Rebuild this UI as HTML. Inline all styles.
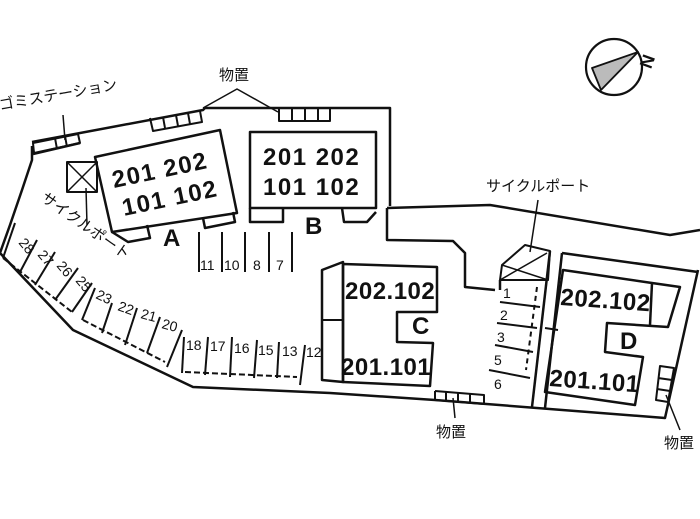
<!DOCTYPE html>
<html><head><meta charset="utf-8"><style>
html,body{margin:0;padding:0;background:#fff;width:700px;height:519px;overflow:hidden}
svg{display:block}
text{font-family:"Liberation Sans","Noto Sans CJK JP",sans-serif;fill:#111}
.b{font-weight:bold;font-size:24px;letter-spacing:1.5px}
.s{font-size:14px}
.j{font-size:15px}
</style></head><body>
<svg width="700" height="519" viewBox="0 0 700 519" xmlns="http://www.w3.org/2000/svg" stroke="#111" fill="none" stroke-width="2.5" stroke-linejoin="round">
<!-- compass -->
<circle cx="614" cy="67" r="28" stroke-width="2.2"/>
<polygon points="592,68 638,52 601,90" fill="#bbb" stroke-width="1.8"/>
<text x="640" y="66" font-size="18" font-weight="bold" stroke="none" transform="rotate(-70 648 60)">N</text>
<!-- outer boundary -->
<polyline points="32,146 32,160 22,190 10,225 0,253 73,330 193,387 330,393 435,400 665,418 698,270"/>
<polyline points="32,142 203,110 205,108 390,108 390,206"/>
<polyline points="387,208 490,205 670,235 700,230"/>
<line x1="33" y1="154" x2="80" y2="143"/>
<polygon points="33,143 78,134 80,143 34,153" stroke-width="2"/>
<line x1="55" y1="138" x2="57" y2="149" stroke-width="2"/>
<line x1="65" y1="136" x2="67" y2="147" stroke-width="2"/>
<!-- storage top -->
<polyline points="150,118 153,131 202,122 200,111" stroke-width="2"/>
<line x1="163" y1="117" x2="165" y2="128" stroke-width="2"/><line x1="176" y1="115" x2="178" y2="126" stroke-width="2"/><line x1="188" y1="113" x2="190" y2="124" stroke-width="2"/>
<polyline points="279,108 279,121 330,121 330,108" stroke-width="2"/>
<line x1="292" y1="108" x2="292" y2="121" stroke-width="2"/><line x1="305" y1="108" x2="305" y2="121" stroke-width="2"/><line x1="318" y1="108" x2="318" y2="121" stroke-width="2"/>
<polyline points="203,108 237,89 278,112" stroke-width="1.5"/>
<line x1="63" y1="115" x2="65" y2="140" stroke-width="1.5"/>
<!-- building A -->
<polygon points="95,157 220,130 237,213 112,232" />
<polyline points="112,232 128,242 150,238 147,225"/>
<polyline points="203,218 205,228 235,222 233,212"/>
<rect x="67" y="162" width="30" height="30" stroke-width="2"/>
<line x1="67" y1="162" x2="97" y2="192" stroke-width="1.5"/><line x1="97" y1="162" x2="67" y2="192" stroke-width="1.5"/>
<line x1="86" y1="188" x2="87" y2="225" stroke-width="1.5"/>
<!-- building B -->
<rect x="250" y="132" width="126" height="76"/>
<polyline points="250,208 250,222 283,222 283,208"/>
<polyline points="342,208 344,222 367,222 376,212"/>
<polyline points="387,208 387,240 453,241 465,253 465,287 495,290"/>
<!-- parking 11-7 -->
<g stroke-width="2"><line x1="199" y1="232" x2="199" y2="272"/><line x1="222" y1="232" x2="222" y2="272"/><line x1="245" y1="232" x2="245" y2="272"/><line x1="269" y1="232" x2="269" y2="272"/><line x1="292" y1="232" x2="292" y2="272"/></g>
<!-- left parking -->
<g stroke-width="2" stroke-dasharray="6,3"><line x1="3" y1="258" x2="72" y2="312"/><line x1="83" y1="320" x2="165" y2="362"/><line x1="185" y1="372" x2="297" y2="377"/></g>
<g stroke-width="2">
<line x1="3" y1="258" x2="15" y2="223"/><line x1="20" y1="272" x2="37" y2="240"/><line x1="35" y1="285" x2="55" y2="252"/><line x1="55" y1="300" x2="78" y2="268"/><line x1="72" y1="312" x2="92" y2="283"/><line x1="82" y1="320" x2="95" y2="288"/><line x1="102" y1="333" x2="112" y2="303"/><line x1="125" y1="345" x2="137" y2="308"/><line x1="147" y1="353" x2="160" y2="317"/><line x1="167" y1="367" x2="182" y2="330"/><line x1="184" y1="337" x2="182" y2="373"/><line x1="208" y1="337" x2="205" y2="375"/><line x1="232" y1="337" x2="230" y2="377"/><line x1="257" y1="340" x2="254" y2="378"/><line x1="279" y1="342" x2="277" y2="378"/><line x1="305" y1="345" x2="300" y2="385"/></g>
<!-- building C -->
<polygon points="343,264 437,267 437,312 397,312 397,342 433,343 430,386 343,382"/>
<polygon points="322,270 343,262 343,382 322,380"/>
<line x1="322" y1="320" x2="343" y2="320" stroke-width="2"/>
<!-- storage bottom -->
<polyline points="435,391 435,400 484,404 484,395 435,391" stroke-width="2"/>
<line x1="446" y1="392" x2="446" y2="401" stroke-width="2"/><line x1="458" y1="393" x2="458" y2="402" stroke-width="2"/><line x1="470" y1="394" x2="470" y2="403" stroke-width="2"/>
<line x1="453" y1="398" x2="455" y2="418" stroke-width="1.5"/>
<!-- cycle port and parking 1-6 -->
<polygon points="500,280 502,265 525,245 550,251 548,280" stroke-width="2"/>
<line x1="502" y1="265" x2="548" y2="280" stroke-width="1.5"/><line x1="500" y1="280" x2="547" y2="253" stroke-width="1.5"/>
<line x1="538" y1="200" x2="530" y2="252" stroke-width="1.5"/>
<line x1="500" y1="280" x2="500" y2="290"/>
<g stroke-width="2"><line x1="500" y1="302" x2="540" y2="307"/><line x1="497" y1="323" x2="537" y2="328"/><line x1="495" y1="345" x2="533" y2="352"/><line x1="489" y1="370" x2="530" y2="378"/></g>
<line x1="537" y1="287" x2="526" y2="370" stroke-width="2" stroke-dasharray="5,4"/>
<!-- D -->
<polyline points="550,251 532,407"/>
<polyline points="562,253 545,408"/>
<polyline points="562,253 698,272"/>
<line x1="545" y1="328" x2="558" y2="330" stroke-width="2"/>
<polygon points="563,270 652,283 680,287 668,327 607,323 605,352 643,357 635,405 545,392"/>
<line x1="652" y1="283" x2="650" y2="325"/>
<polygon points="660,366 674,368 668,402 656,400" stroke-width="2"/>
<line x1="658" y1="378" x2="672" y2="380" stroke-width="2"/><line x1="657" y1="389" x2="670" y2="391" stroke-width="2"/>
<line x1="666" y1="395" x2="680" y2="430" stroke-width="1.5"/>
<!-- texts -->
<g stroke="none">
<text class="b" x="114" y="188" transform="rotate(-12 114 188)">201 202</text>
<text class="b" x="124" y="216" transform="rotate(-12 124 216)">101 102</text>
<text class="b" x="263" y="165">201  202</text>
<text class="b" x="263" y="195">101  102</text>
<text class="b" x="163" y="246">A</text>
<text class="b" x="305" y="234">B</text>
<text class="b" x="345" y="299" style="letter-spacing:0.5px">202.102</text>
<text class="b" x="412" y="334">C</text>
<text class="b" x="341" y="375" style="letter-spacing:0.5px">201.101</text>
<text class="b" x="560" y="305" transform="rotate(4 560 305)" style="letter-spacing:0.5px">202.102</text>
<text class="b" x="620" y="349">D</text>
<text class="b" x="549" y="386" transform="rotate(4 549 386)" style="letter-spacing:0.5px">201.101</text>
<text class="j" x="219" y="80">物置</text>
<text class="j" x="436" y="437">物置</text>
<text class="j" x="664" y="448">物置</text>
<text class="j" x="0" y="110" transform="rotate(-10 0 110)">ゴミステーション</text>
<text class="j" x="486" y="191">サイクルポート</text>
<text class="j" x="40" y="200" transform="rotate(35 40 200)">サイクルポート</text>
<g class="s">
<text x="200" y="270">11</text><text x="224" y="270">10</text><text x="253" y="270">8</text><text x="276" y="270">7</text>
<text x="18" y="243" transform="rotate(50 18 243)">28</text><text x="37" y="255" transform="rotate(50 37 255)">27</text><text x="56" y="266" transform="rotate(50 56 266)">26</text><text x="75" y="281" transform="rotate(50 75 281)">25</text>
<text x="95" y="298" transform="rotate(25 95 298)">23</text><text x="117" y="310" transform="rotate(20 117 310)">22</text><text x="140" y="318" transform="rotate(15 140 318)">21</text><text x="161" y="328" transform="rotate(15 161 328)">20</text>
<text x="186" y="350">18</text><text x="210" y="351">17</text><text x="234" y="353">16</text><text x="258" y="355">15</text><text x="282" y="356">13</text><text x="306" y="357">12</text>
<text x="503" y="298">1</text><text x="500" y="320">2</text><text x="497" y="342">3</text><text x="494" y="365">5</text><text x="494" y="389">6</text>
</g>
</g>
</svg>
</body></html>
